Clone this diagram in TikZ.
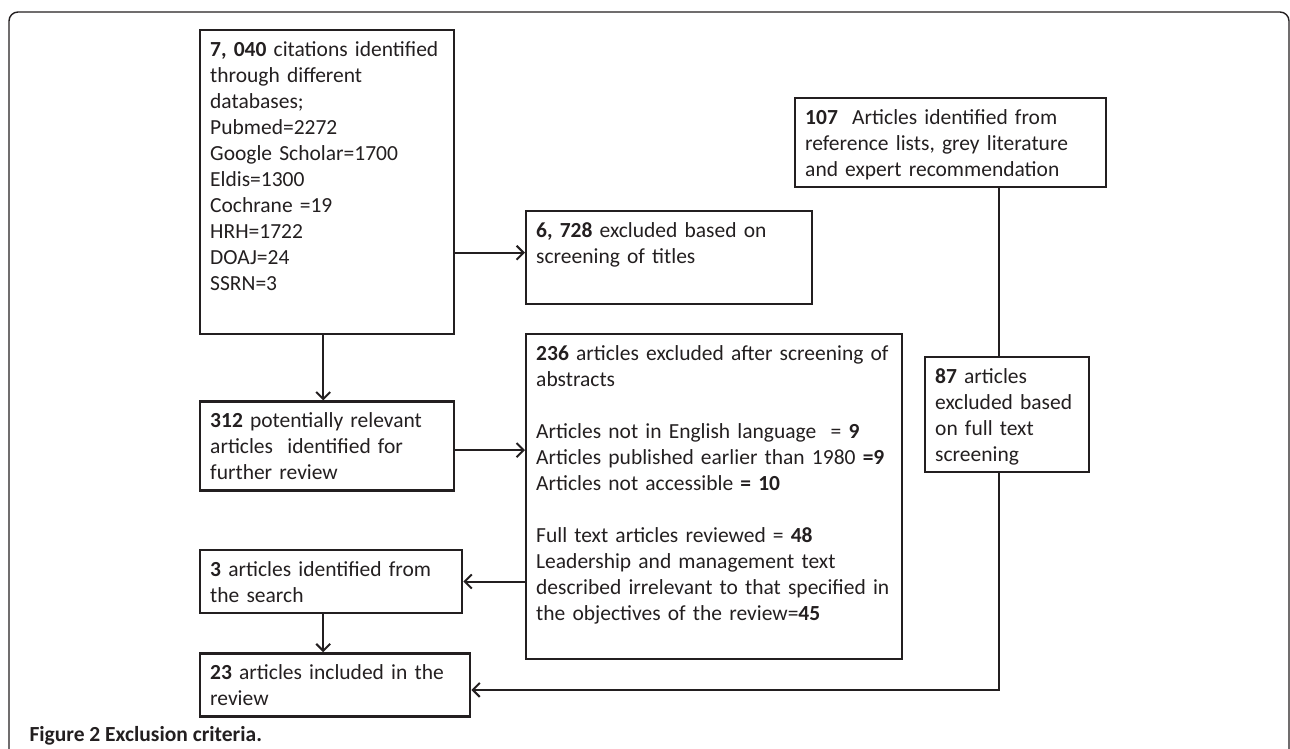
\documentclass[tikz,border=0pt]{standalone}
\usepackage{fontspec}
\setmainfont{Carlito}
\usepackage{xcolor}
\usetikzlibrary{positioning}
\usetikzlibrary{arrows.meta}
\definecolor{ink}{HTML}{231F20}
\tikzset{	x=1pt, y=-1pt,
	box/.style={
		draw=ink,
		text=ink,
		line width=2.4pt,
		anchor=north west,
		inner sep=10pt,
		align=left,
		text height=16pt,
		font=\fontsize{21.5}{26}\selectfont},
	flow/.style={
		draw=ink,
		line width=2pt,
		-{Straight Barb[length=7pt,width=14pt,line width=2pt]}},
	link/.style={
		draw=ink,
		line width=2pt},
	frame/.style={
		draw=ink,
		line width=1.4pt,
		rounded corners=9pt}
}

\begin{document}
\begin{tikzpicture}
			\useasboundingbox (0,0) rectangle (1290,748);
			\draw[frame] (9,770) -- (9,12) -- (1289,12) -- (1289,770);
			\node[box, text width=234pt, text depth=268pt] (db) at (199,29) {\textbf{7, 040} citations identified\\ through different\\ databases;\\ Pubmed=2272\\ Google Scholar=1700\\ Eldis=1300\\ Cochrane =19\\ HRH=1722\\ DOAJ=24\\ SSRN=3};
			\node[box, text width=266pt, text depth=57pt] (titles) at (525,210) {\textbf{6, 728} excluded based on\\ screening of titles};
			\node[box, text width=291pt, text depth=53pt] (refs) at (794,97) {\textbf{107}\ \ Articles identified from\\ reference lists, grey literature\\ and expert recommendation};
			\node[box, text width=356pt, text depth=289pt] (abs) at (525,333) {\textbf{236} articles excluded after screening of\\ abstracts\\[26pt] Articles not in English language\ \ = \textbf{9}\\ Articles published earlier than 1980 \textbf{=9}\\ Articles not accessible \textbf{= 10}\\[26pt] Full text articles reviewed = \textbf{48}\\ Leadership and management text\\ described irrelevant to that specified in\\ the objectives of the review=\textbf{45}};
			\node[box, text width=144pt, text depth=79pt] (full) at (924,356) {\textbf{87} articles\\ excluded based\\ on full text\\ screening};
			\node[box, text width=234pt, text depth=53pt, below=65pt of db.south west, anchor=north west] (rel) {\textbf{312} potentially relevant\\ articles\ \ identified for\\ further review};
			\node[box, text width=242pt, text depth=27pt, below=57pt of rel.south west, anchor=north west] (srch) {\textbf{3} articles identified from\\ the search};
			\node[box, text width=250pt, text depth=27pt, below=38pt of srch.south west, anchor=north west] (incl) {\textbf{23} articles included in the\\ review};
			\node[anchor=base west, text=ink, font=\bfseries\fontsize{21.5}{26}\selectfont] (cap) at (26,741) {Figure 2 Exclusion criteria.};
			\draw[flow] ([xshift=-4pt]db.south) -- ([xshift=-4pt]db.south |- rel.north);
			\draw[flow] ([yshift=5pt]titles.west -| db.east) -- ([yshift=5pt]titles.west);
			\draw[flow] ([yshift=-4pt]rel.east) -- ([yshift=-4pt]rel.east -| abs.west);
			\draw[flow] (srch.east -| abs.west) -- (srch.east);
			\draw[flow] ([xshift=-8pt]srch.south) -- ([xshift=-8pt]srch.south |- incl.north);
			\draw[link] ([xshift=-8pt]full.north |- refs.south) -- ([xshift=-8pt]full.north);
			\draw[flow] ([xshift=-8pt]full.south) |- ([yshift=-5pt]incl.east);
		\end{tikzpicture}
\end{document}
